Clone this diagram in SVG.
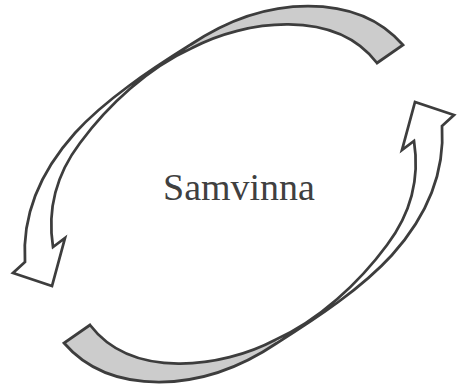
<svg xmlns="http://www.w3.org/2000/svg" xmlns:xlink="http://www.w3.org/1999/xlink" width="457" height="389" viewBox="0 0 457 389">
<style>
.back{fill:#cccccc;stroke:none}
.edge{fill:none;stroke:#3d3d3d;stroke-width:2.75;stroke-linejoin:miter;stroke-miterlimit:10}
.label{font-family:"Liberation Serif","Times New Roman",serif;font-size:38px;fill:#404040;text-anchor:middle}
</style>
<defs>
<g id="circArrow">
<path class="back" d="M 403,45 C 378,16 345,6 308,6 C 270,6 230,18 190,45 L 192,48 C 245,20 335,8 377,63 Z"/>
<path class="edge" d="M 403,45 C 378,16 345,6 308,6 C 270,6 230,18 190,45 C 150,70 105,100 75,133 C 40,172 22,215 25,262 L 13,273 L 52,286 L 65,238 L 53,247 C 48,215 52,180 80,143 C 108,105 148,68 192,48 C 245,20 335,8 377,63 Z"/>
</g>
</defs>
<g id="connectors">
<use id="arrow-top" xlink:href="#circArrow"/>
<use id="arrow-bottom" xlink:href="#circArrow" transform="rotate(180 233.5 194)"/>
</g>
<g id="node-samvinna">
<text class="label" x="239" y="200">Samvinna</text>
</g>
</svg>
